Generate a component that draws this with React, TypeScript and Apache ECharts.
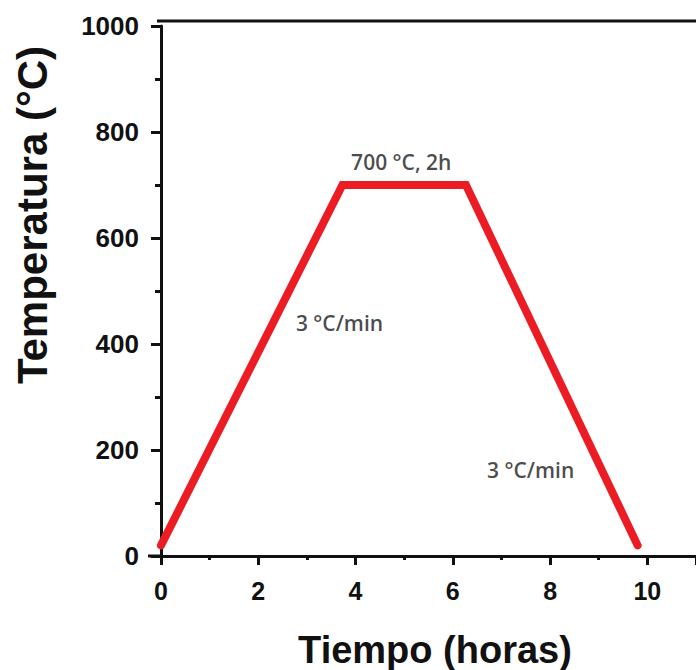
import React, { useEffect, useRef } from "react";
import * as echarts from "echarts";

// Profile: time (h) vs temperature (°C)
const timeHours = [0, 3.73, 6.27, 9.8];
const temperatureC = [20, 700, 700, 20];

const xTicks = [0, 2, 4, 6, 8, 10];
const yTicks = [0, 200, 400, 600, 800, 1000];

const annotationTexts = ["700 °C, 2h", "3 °C/min", "3 °C/min"];
const annotationX = [4.94, 3.67, 7.6];
const annotationY = [743, 440, 162];

const xTitle = "Tiempo (horas)";
const yTitle = "Temperatura (°C)";

export default function App() {
  const ref = useRef<HTMLDivElement>(null);
  useEffect(() => {
    if (!ref.current) return;
    const chart = echarts.init(ref.current, undefined, { renderer: "svg" });
    const axisFont = "'Liberation Sans', Arial, sans-serif";
    chart.setOption({
      animation: false,
      backgroundColor: "#ffffff",
      grid: { left: 161, right: 0, top: 26, bottom: 114 },
      xAxis: {
        type: "value",
        min: xTicks[0],
        max: 11,
        interval: 2,
        axisLine: { show: true, onZero: false, lineStyle: { color: "#111", width: 3 } },
        axisTick: { show: true, length: 9, lineStyle: { color: "#111", width: 3 } },
        minorTick: { show: true, splitNumber: 2, length: 4, lineStyle: { color: "#111", width: 3 } },
        splitLine: { show: false },
        axisLabel: {
          margin: 22,
          fontSize: 25,
          fontWeight: "bold",
          fontFamily: axisFont,
          color: "#111",
          showMaxLabel: false,
          formatter: (v: number) => (xTicks.includes(v) ? String(v) : ""),
        },
      },
      yAxis: {
        type: "value",
        min: yTicks[0],
        max: yTicks[yTicks.length - 1],
        interval: 200,
        axisLine: { show: true, onZero: false, lineStyle: { color: "#111", width: 3 } },
        axisTick: { show: true, length: 10, lineStyle: { color: "#111", width: 3 } },
        minorTick: { show: true, splitNumber: 2, length: 6, lineStyle: { color: "#111", width: 3 } },
        splitLine: { show: false },
        axisLabel: {
          margin: 22,
          fontSize: 26,
          fontWeight: "bold",
          fontFamily: axisFont,
          color: "#111",
          formatter: (v: number) => String(v),
        },
      },
      series: [
        {
          type: "line",
          data: timeHours.map((t, i) => [t, temperatureC[i]]),
          symbol: "none",
          lineStyle: { color: "#ec1c24", width: 8, cap: "round", join: "miter" },
          z: 3,
        },
        {
          type: "scatter",
          data: annotationTexts.map((txt, i) => ({ value: [annotationX[i], annotationY[i]], name: txt })),
          symbolSize: 0,
          silent: true,
          label: {
            show: true,
            position: "inside",
            formatter: (p: any) => p.name,
            fontFamily: "'Open Sans', sans-serif",
            fontWeight: 600,
            fontSize: 21,
            color: "#1a1a1a",
          },
        },
      ],
      graphic: [
        {
          type: "line",
          shape: { x1: 157, y1: 21, x2: 696, y2: 21 },
          style: { stroke: "#111", lineWidth: 3 },
        },
        {
          type: "line",
          shape: { x1: 148, y1: 556, x2: 162, y2: 556 },
          style: { stroke: "#111", lineWidth: 3 },
        },
        {
          type: "text",
          x: 435,
          y: 650,
          style: {
            text: xTitle,
            font: "bold 38px 'Liberation Sans', Arial, sans-serif",
            fill: "#111",
            align: "center",
            verticalAlign: "middle",
          },
        },
        {
          type: "text",
          x: 32,
          y: 215,
          rotation: Math.PI / 2,
          style: {
            text: yTitle,
            font: "bold 42px 'Liberation Sans', Arial, sans-serif",
            fill: "#111",
            align: "center",
            verticalAlign: "middle",
          },
        },
      ],
    });
    return () => chart.dispose();
  }, []);
  return <div ref={ref} style={{ width: 696, height: 670, position: "absolute", left: 0, top: 0 }} />;
}
